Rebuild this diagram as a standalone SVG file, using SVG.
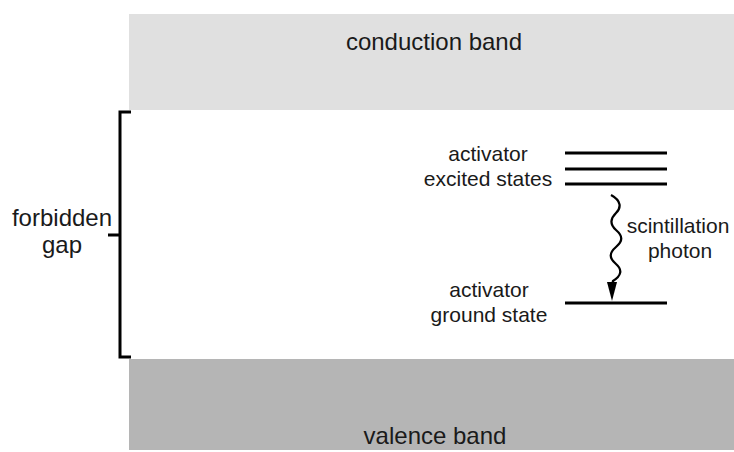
<svg xmlns="http://www.w3.org/2000/svg" width="734" height="452" viewBox="0 0 734 452">
<style>
text{font-family:"Liberation Sans",Arial,sans-serif;fill:#1a1a1a;text-anchor:middle}
.big{font-size:24px}
.sm{font-size:21px}
.lvl{stroke:#000;stroke-width:3;fill:none}
</style>
<rect width="734" height="452" fill="#fff"/>
<g id="conduction">
<rect x="129" y="14" width="605" height="96" fill="#e0e0e0"/>
<text class="big" x="434" y="50">conduction band</text>
</g>
<g id="valence">
<rect x="129" y="359" width="605" height="91" fill="#b5b5b5"/>
<text class="big" x="435" y="444">valence band</text>
</g>
<g id="gap">
<path d="M131 112 H120 V357 H131 M108 235 H120" class="lvl"/>
<text class="big" x="62" y="226">forbidden</text>
<text class="big" x="62" y="253">gap</text>
</g>
<g id="excited">
<path d="M565 153 H667 M565 169 H667 M565 184 H667" class="lvl"/>
<text class="sm" x="488" y="161">activator</text>
<text class="sm" x="488" y="186">excited states</text>
</g>
<g id="ground">
<path d="M565 303 H667" class="lvl"/>
<text class="sm" x="489" y="297">activator</text>
<text class="sm" x="489" y="322">ground state</text>
</g>
<g id="connectors">
<path d="M611 195 C 622 201, 621 208, 616 213 S 609 224, 616 230 S 623 241, 616 247 S 609 258, 616 264 S 621 276, 613 281 L 612 286" fill="none" stroke="#000" stroke-width="2.3"/>
<polygon points="612,301 607,282 617,282" fill="#000"/>
<text class="sm" x="678" y="233">scintillation</text>
<text class="sm" x="680" y="258">photon</text>
</g>
</svg>
